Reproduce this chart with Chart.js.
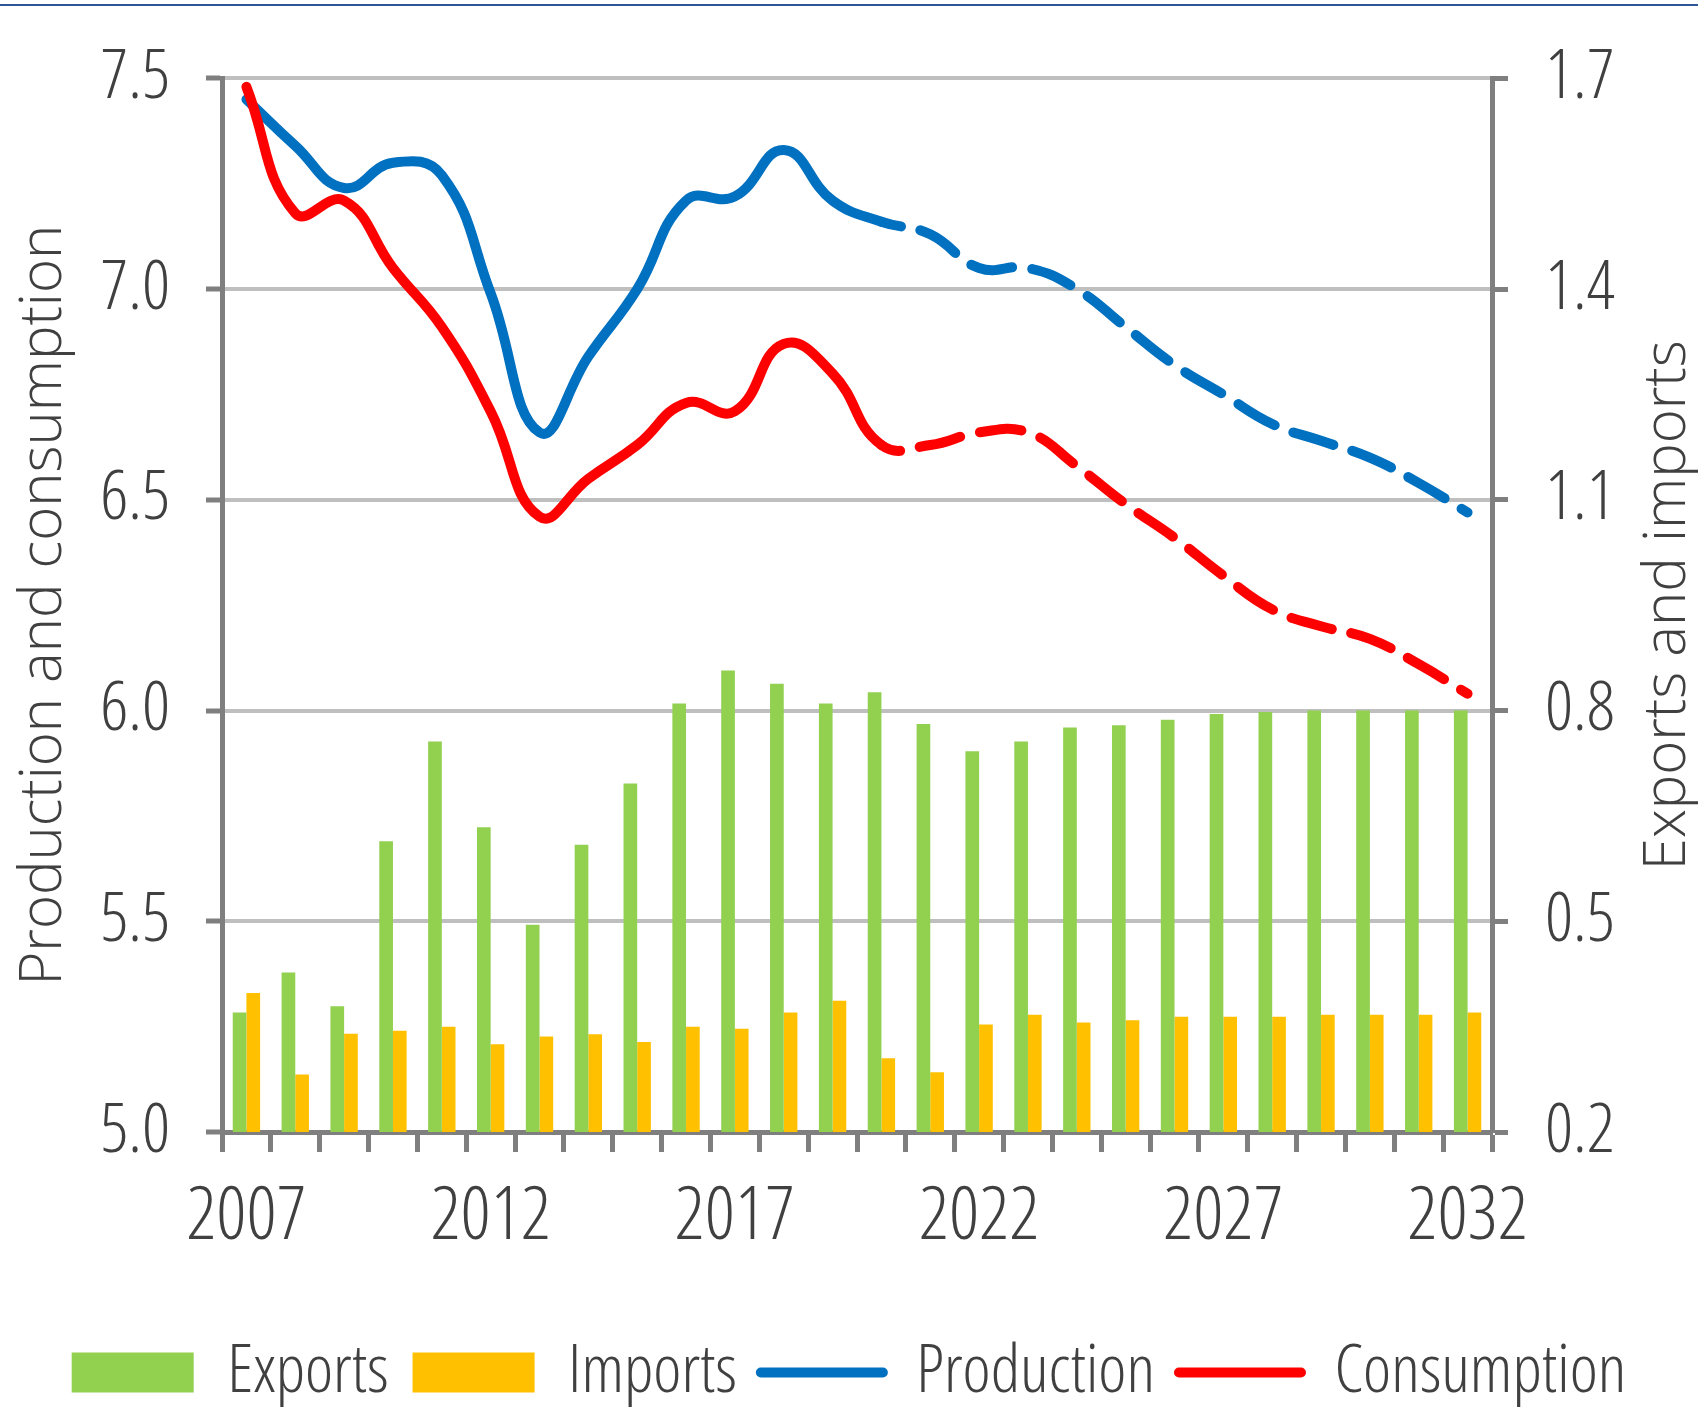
<!DOCTYPE html>
<html>
<head>
<meta charset="utf-8">
<script src="https://cdn.jsdelivr.net/npm/chart.js@4.4.0/dist/chart.umd.min.js"></script>
<style>
  html, body { margin: 0; padding: 0; background: #fff; overflow: hidden; }
  #wrap { position: relative; width: 1698px; height: 1407px; }
  #topline { position: absolute; left: 0; top: 4px; width: 1698px; height: 2px; background: #2e5597; }
</style>
</head>
<body>
<div id="wrap">
  <canvas id="grafic"></canvas>
  <div id="topline"></div>
</div>
<script>
const ani = ['2007','2008','2009','2010','2011','2012','2013','2014','2015','2016','2017','2018','2019',
             '2020','2021','2022','2023','2024','2025','2026','2027','2028','2029','2030','2031','2032'];

const exporturi = [0.37, 0.427, 0.379, 0.614, 0.756, 0.634, 0.495, 0.609, 0.696, 0.81, 0.857, 0.838, 0.81,
                   0.826, 0.781, 0.742, 0.756, 0.776, 0.779, 0.787, 0.795, 0.798, 0.80, 0.80, 0.80, 0.80];
const importuri = [0.398, 0.282, 0.34, 0.344, 0.35, 0.325, 0.336, 0.339, 0.328, 0.35, 0.347, 0.37, 0.387,
                   0.305, 0.285, 0.353, 0.367, 0.356, 0.359, 0.364, 0.364, 0.364, 0.367, 0.367, 0.367, 0.37];
const productie = [7.45, 7.34, 7.24, 7.30, 7.27, 6.99, 6.66, 6.84, 7.00, 7.21, 7.22, 7.33, 7.21,
                   7.16, 7.13, 7.05, 7.05, 7.00, 6.91, 6.82, 6.75, 6.68, 6.64, 6.60, 6.54, 6.47];
const consum = [7.48, 7.18, 7.21, 7.05, 6.91, 6.71, 6.46, 6.55, 6.63, 6.73, 6.71, 6.87, 6.80,
                6.63, 6.63, 6.66, 6.66, 6.58, 6.49, 6.41, 6.32, 6.24, 6.20, 6.17, 6.11, 6.04];

const ticksStanga = [5.0, 5.5, 6.0, 6.5, 7.0, 7.5];
const ticksDreapta = [0.2, 0.5, 0.8, 1.1, 1.4, 1.7];
const aniEtichete = ['2007', '2012', '2017', '2022', '2027', '2032'];

// de la 2020 incolo linia e punctata (proiectie)
const startProiectie = 13;

const fontFamilie = "'Open Sans', 'DejaVu Sans Condensed', sans-serif";
const greutateIngust = '300 condensed';
const culoareText = '#404040';

const liniute = ctx => ctx.p0DataIndex >= startProiectie ? [42, 20] : undefined;
const decalaj = ctx => ctx.p0DataIndex >= startProiectie ? 22 : 0;

// titlul axei din dreapta, citit de jos in sus
const titluDreapta = {
    id: 'titluDreapta',
    afterDraw: (chart) => {
        const ctx = chart.ctx;
        const a = chart.chartArea;
        ctx.save();
        ctx.translate(1668, (a.top + a.bottom) / 2);
        ctx.rotate(-Math.PI / 2);
        ctx.font = '300 58px ' + fontFamilie;
        ctx.fillStyle = culoareText;
        ctx.textAlign = 'center';
        ctx.textBaseline = 'middle';
        ctx.fillText('Exports and imports', 0, 0);
        ctx.restore();
    }
};

const ctx = document.getElementById('grafic').getContext('2d');

new Chart(ctx, {
    data: {
        labels: ani,
        datasets: [
            {
                type: 'bar', label: 'Exports', data: exporturi, yAxisID: 'y1',
                backgroundColor: '#92d050', borderWidth: 0, order: 2,
                categoryPercentage: 0.56, barPercentage: 1.0
            },
            {
                type: 'bar', label: 'Imports', data: importuri, yAxisID: 'y1',
                backgroundColor: '#ffc000', borderWidth: 0, order: 2,
                categoryPercentage: 0.56, barPercentage: 1.0
            },
            {
                type: 'line', label: 'Production', data: productie, yAxisID: 'y',
                borderColor: '#0070c0', backgroundColor: '#0070c0', borderWidth: 10,
                pointRadius: 0, tension: 0.45, borderCapStyle: 'round', order: 1,
                segment: { borderDash: liniute, borderDashOffset: decalaj }
            },
            {
                type: 'line', label: 'Consumption', data: consum, yAxisID: 'y',
                borderColor: '#ff0000', backgroundColor: '#ff0000', borderWidth: 10,
                pointRadius: 0, tension: 0.45, borderCapStyle: 'round', order: 0,
                segment: { borderDash: liniute, borderDashOffset: decalaj }
            }
        ]
    },
    options: {
        responsive: true,
        maintainAspectRatio: false,
        animation: false,
        layout: { padding: { top: 78, bottom: -9, left: 0, right: 0 } },
        plugins: {
            tooltip: { enabled: false },
            legend: {
                position: 'bottom',
                labels: {
                    usePointStyle: true,
                    pointStyleWidth: 122,
                    boxHeight: 40,
                    padding: 24,
                    color: culoareText,
                    font: { family: fontFamilie, weight: greutateIngust, size: 67 },
                    generateLabels: (chart) => chart.data.datasets.map((ds, i) => ({
                        text: ds.label,
                        fillStyle: ds.type === 'bar' ? ds.backgroundColor : 'rgba(0,0,0,0)',
                        strokeStyle: ds.type === 'bar' ? ds.backgroundColor : ds.borderColor,
                        lineWidth: ds.type === 'bar' ? 0 : 10,
                        lineCap: 'round',
                        pointStyle: ds.type === 'bar' ? 'rect' : 'line',
                        fontColor: culoareText,
                        datasetIndex: i,
                        hidden: false
                    }))
                }
            }
        },
        scales: {
            x: {
                type: 'category',
                offset: true,
                afterFit: (scale) => { scale.height = 183; },
                grid: {
                    offset: true,
                    drawOnChartArea: false,
                    drawTicks: true,
                    tickLength: 20,
                    tickColor: '#7f7f7f',
                    tickWidth: 5
                },
                border: { color: '#7f7f7f', width: 5 },
                ticks: {
                    autoSkip: false,
                    maxRotation: 0,
                    padding: 22,
                    color: culoareText,
                    font: { family: fontFamilie, weight: greutateIngust, size: 74 },
                    callback: function (val) {
                        const an = this.getLabelForValue(val);
                        return aniEtichete.includes(an) ? an : '';
                    }
                }
            },
            y: {
                position: 'left',
                min: 5.0, max: 7.5,
                afterFit: (scale) => { scale.width = 222; },
                afterBuildTicks: (scale) => { scale.ticks = ticksStanga.map(v => ({ value: v })); },
                grid: {
                    color: '#bfbfbf',
                    lineWidth: 4,
                    tickLength: 16,
                    tickColor: '#7f7f7f',
                    tickWidth: 5
                },
                border: { color: '#7f7f7f', width: 5 },
                ticks: {
                    padding: 36,
                    color: culoareText,
                    font: { family: fontFamilie, weight: greutateIngust, size: 69 },
                    callback: (v) => v.toFixed(1)
                },
                title: {
                    display: true,
                    text: 'Production and consumption',
                    color: culoareText,
                    font: { family: fontFamilie, weight: '300', size: 58 },
                    padding: { top: 10, bottom: 0 }
                }
            },
            y1: {
                position: 'right',
                min: 0.2, max: 1.7,
                afterFit: (scale) => { scale.width = 206; },
                afterBuildTicks: (scale) => { scale.ticks = ticksDreapta.map(v => ({ value: v })); },
                grid: {
                    drawOnChartArea: false,
                    tickLength: 16,
                    tickColor: '#7f7f7f',
                    tickWidth: 5
                },
                border: { color: '#7f7f7f', width: 5 },
                ticks: {
                    padding: 37,
                    color: culoareText,
                    font: { family: fontFamilie, weight: greutateIngust, size: 69 },
                    callback: (v) => v.toFixed(1)
                }
            }
        }
    },
    plugins: [titluDreapta]
});
</script>
</body>
</html>
